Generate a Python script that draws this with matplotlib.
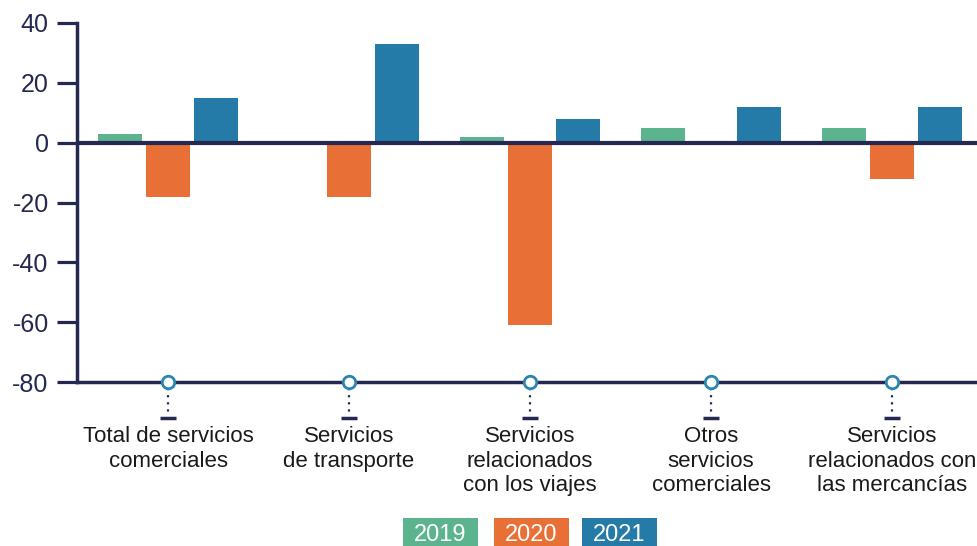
import numpy as np
import matplotlib.pyplot as plt
from matplotlib.patches import Rectangle

plt.rcParams['font.family'] = ['Liberation Sans', 'DejaVu Sans']
plt.rcParams['axes.unicode_minus'] = False

categories = ["Total de servicios\ncomerciales", "Servicios\nde transporte",
              "Servicios\nrelacionados\ncon los viajes", "Otros\nservicios\ncomerciales",
              "Servicios\nrelacionados con\nlas mercancías"]
years = ["2019", "2020", "2021"]
v2019 = [3, 0, 2, 5, 5]
v2020 = [-18, -18, -61, 0, -12]
v2021 = [15, 33, 8, 12, 12]

colors = ["#5bb48e", "#e86f35", "#247ba8"]
navy = "#252850"

W, H = 978, 546
fig = plt.figure(figsize=(W / 100, H / 100), dpi=100)
ax = fig.add_axes([77 / W, (H - 382) / H, 1 - 77 / W, 359 / H])

x = np.arange(len(categories))
width = 0.243
step = 0.265
for i, (vals, c) in enumerate(zip([v2019, v2020, v2021], colors)):
    ax.bar(x + (i - 1) * step, vals, width, color=c, zorder=2)

ax.set_xlim(-0.503, 4.475)
ax.set_ylim(-80, 40)
ax.set_yticks(np.arange(-80, 41, 20))
ax.tick_params(axis='y', length=14.4, width=2.3, color=navy, labelcolor=navy,
               labelsize=18, pad=6)
ax.set_xticks(x)
ax.set_xticklabels(categories, fontsize=16, color="#1a1a1a", linespacing=1.22)
ax.tick_params(axis='x', length=0, pad=32)

for s in ['top', 'right']:
    ax.spines[s].set_visible(False)
for s in ['left', 'bottom']:
    ax.spines[s].set_color(navy)
    ax.spines[s].set_linewidth(2.5)
ax.axhline(0, color=navy, lw=3, zorder=3)

# category markers below the axis
trans = ax.get_xaxis_transform()
px = 1 / 359
for xi in x:
    ax.plot([xi, xi], [-6 * px, -31 * px], transform=trans, color=navy, lw=1.6,
            ls=(0, (1, 2.2)), clip_on=False, zorder=4)
    ax.plot([xi - 0.044, xi + 0.044], [-36 * px, -36 * px], transform=trans,
            color=navy, lw=2.5, clip_on=False, solid_capstyle='butt')
ax.plot(x, np.zeros(len(x)), 'o', transform=trans, ms=9, mfc='white', mec="#2a86b0",
        mew=2, clip_on=False, zorder=5)

# legend boxes
lx = [403, 494, 582]
for xl, yr, c in zip(lx, years, colors):
    fig.patches.append(Rectangle((xl / W, 0), 75 / W, 28 / H, transform=fig.transFigure,
                                 facecolor=c, edgecolor='none'))
    fig.text((xl + 37.5) / W, 11 / H, yr, color='white', fontsize=17,
             ha='center', va='center')

fig.savefig("out.png", dpi=100)
